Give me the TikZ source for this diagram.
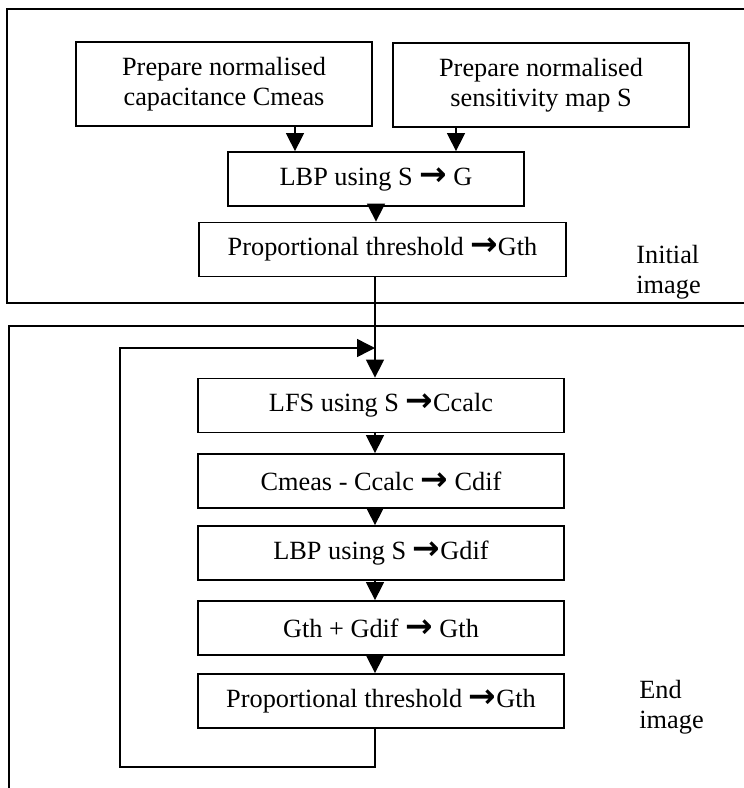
\documentclass[tikz,border=0pt]{standalone}
\usepackage{fontspec}
\setmainfont{Liberation Serif}
\newfontfamily\arrowfont{DejaVu Sans}
\newcommand{\rarrow}{{\arrowfont\bfseries\fontsize{16.5}{15}\selectfont →}}
\usetikzlibrary{arrows.meta}

\begin{document}
\begin{tikzpicture}[x=0.5bp,y=-0.5bp,>={Triangle[length=9bp,width=9bp]},
	block/.style={draw,line width=0.9pt,minimum height=27bp,inner sep=0pt,align=center,font=\fontsize{13.2}{15}\selectfont},
	note/.style={align=left,anchor=west,inner sep=0pt,font=\fontsize{13.2}{15}\selectfont},
	frame/.style={line width=0.9pt},
	link/.style={line width=0.75pt}]
			\useasboundingbox (0,0) rectangle (744,788);
			% initial image
			\draw[frame] (744,9) -- (7,9) -- (7,303) -- (744,303);
			\node[block,minimum width=148bp,minimum height=42bp] (cmeas) at (224,84) {Prepare normalised\\capacitance Cmeas};
			\node[block,minimum width=148bp,minimum height=42bp] (smap) at (541,85) {Prepare normalised\\sensitivity map S};
			\node[block,minimum width=148bp] (lbp) at (376,179) {LBP using S \rarrow{} G};
			\node[block,minimum width=183.5bp] (thr) at (382.5,249.5) {Proportional threshold \rarrow Gth};
			\node[note] (init) at (636,272) {Initial\\image};
			% end image
			\draw[frame] (744,326) -- (9,326) -- (9,788);
			\node[block,minimum width=183bp] (lfs) at (381,405.5) {LFS using S \rarrow Ccalc};
			\node[block,minimum width=183bp] (cdif) at (381,481) {Cmeas - Ccalc \rarrow{} Cdif};
			\node[block,minimum width=183bp] (gdif) at (381,553) {LBP using S \rarrow Gdif};
			\node[block,minimum width=183bp] (gsum) at (381,628) {Gth + Gdif \rarrow{} Gth};
			\node[block,minimum width=183bp] (thr2) at (381,701) {Proportional threshold \rarrow Gth};
			\node[note] (fin) at (639,707) {End\\image};

			\coordinate (col) at (375,0);
			\coordinate (ca) at (295,0);
			\coordinate (cb) at (456,0);
			\coordinate (back) at (120,767);
			\coordinate (join) at (375,348);

			\draw[link,->] (cmeas.south -| ca) -- (lbp.north -| ca);
			\draw[link,->] (smap.south -| cb) -- (lbp.north -| cb);
			\draw[link,->] (lbp.south) -- (lbp.south |- thr.north);
			\draw[link,->] (thr.south -| col) -- (lfs.north -| col);
			\foreach \a/\b in {lfs/cdif,cdif/gdif,gdif/gsum,gsum/thr2}
				\draw[link,->] (\a.south -| col) -- (\b.north -| col);
			\draw[link,->] (thr2.south -| col) |- (back) |- (join);
		\end{tikzpicture}
\end{document}
